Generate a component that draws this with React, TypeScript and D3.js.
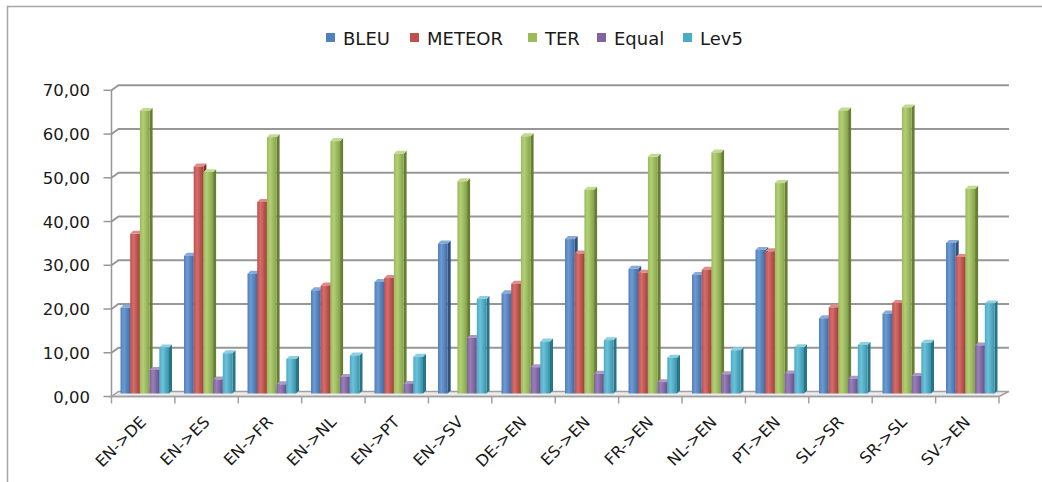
import React from "react";
import * as d3 from "d3";

const categories = ["EN->DE", "EN->ES", "EN->FR", "EN->NL", "EN->PT", "EN->SV", "DE->EN", "ES->EN", "FR->EN", "NL->EN", "PT->EN", "SL->SR", "SR->SL", "SV->EN"];
const seriesNames = ["BLEU", "METEOR", "TER", "Equal", "Lev5"];
const bleu = [19.6, 31.5, 27.4, 23.6, 25.5, 34.3, 22.9, 35.3, 28.5, 27.1, 32.8, 17.2, 18.3, 34.4];
const meteor = [36.5, 51.9, 43.8, 24.7, 26.4, 0, 25.1, 32.0, 27.6, 28.3, 32.5, 19.7, 20.7, 31.2];
const ter = [64.6, 50.6, 58.6, 57.7, 54.8, 48.5, 58.8, 46.6, 54.1, 55.1, 48.1, 64.7, 65.4, 46.8];
const equal = [5.4, 3.2, 2.1, 3.8, 2.2, 12.7, 6.0, 4.5, 2.6, 4.4, 4.6, 3.4, 4.0, 11.0];
const lev5 = [10.5, 9.2, 7.9, 8.7, 8.4, 21.6, 11.9, 12.2, 8.2, 9.9, 10.6, 11.1, 11.6, 20.6];
const yTicks = [0, 10, 20, 30, 40, 50, 60, 70];

const seriesValues = [bleu, meteor, ter, equal, lev5];
const colors = [
  { front: "#4F81BD", light: "#6E9AD2", dark: "#3E6BA3", side: "#2E527F", top: "#86ABDA" },
  { front: "#C0504D", light: "#D46E6B", dark: "#A43E3B", side: "#832F2C", top: "#DE8C89" },
  { front: "#9BBB59", light: "#B2CF77", dark: "#84A246", side: "#667F33", top: "#C3DB8F" },
  { front: "#8064A2", light: "#987FB8", dark: "#6B5189", side: "#523E6B", top: "#AD98C8" },
  { front: "#4BACC6", light: "#6CC2D8", dark: "#3893AC", side: "#2A7487", top: "#8AD0E1" },
];

const legendSquareX = [326, 410, 528, 597, 683];
const FONT = "'DejaVu Sans', sans-serif";

export default function App() {
  const W = 1042, H = 482;
  const axisX0 = 111.5, axisX1 = 999;
  const frontY = d3.scaleLinear().domain([0, 70]).range([396.5, 90.3]);
  const barY = d3.scaleLinear().domain([0, 70]).range([393.5, 87.3]);
  const tickBand = d3.scaleBand<string>().domain(categories).range([axisX0, axisX1]).padding(0);
  const barBand = d3.scaleBand<string>().domain(categories).range([113, 1002]).padding(0);
  const inner = d3.scaleBand<string>().domain(seriesNames).range([7.5, 56]).padding(0);
  const backDy = -5;
  const gridRight = 1009;
  const bdx = 3, bdy = -3;

  return (
    <svg width={W} height={H} style={{ position: "absolute", left: 0, top: 0, background: "#fff" }}>
      <defs>
        {colors.map((c, i) => (
          <linearGradient key={i} id={`g${i}`} x1="0" x2="1" y1="0" y2="0">
            <stop offset="0" stopColor={c.front} />
            <stop offset="0.35" stopColor={c.light} />
            <stop offset="1" stopColor={c.dark} />
          </linearGradient>
        ))}
      </defs>
      {/* frame */}
      <path d={`M7.5,${H} V6.5 H${W}`} fill="none" stroke="#a6a6a6" strokeWidth={1.5} />

      {/* legend */}
      {seriesNames.map((s, i) => (
        <g key={s}>
          <rect x={legendSquareX[i]} y={33} width={9} height={9} fill={colors[i].front} />
          <text x={legendSquareX[i] + 17} y={44.5} fontFamily={FONT} fontSize={18} fill="#1a1a1a">{s}</text>
        </g>
      ))}

      {/* floor */}
      <path
        d={`M${axisX0},${frontY(0)} L${axisX1},${frontY(0)} L${gridRight},${frontY(0) + backDy} L${axisX0 + 7},${frontY(0) + backDy} Z`}
        fill="#ececec" stroke="#a0a0a0" strokeWidth={1.5}
      />

      {/* gridlines */}
      {yTicks.map((t) => {
        const y = frontY(t);
        return (
          <g key={t}>
            {t > 0 && (
              <path d={`M${axisX0},${y} L${axisX0 + 7},${y + backDy} H${gridRight}`} fill="none" stroke="#979797" strokeWidth={2} />
            )}
            <line x1={axisX0 - 8} x2={axisX0} y1={y} y2={y} stroke="#979797" strokeWidth={1.5} />
            <text x={90} y={y + 6} textAnchor="end" fontFamily={FONT} fontSize={16.5} fill="#1a1a1a">
              {d3.format(".2f")(t).replace(".", ",")}
            </text>
          </g>
        );
      })}
      {/* y axis */}
      <line x1={axisX0} x2={axisX0} y1={frontY(70)} y2={frontY(0)} stroke="#979797" strokeWidth={1.5} />

      {/* bars */}
      {categories.map((cat, ci) => (
        <g key={cat}>
          {seriesValues.map((vals, si) => {
            const v = vals[ci];
            if (!v) return null;
            const x = (barBand(cat) as number) + (inner(seriesNames[si]) as number);
            const w = inner.bandwidth();
            const y0 = barY(0);
            const y1 = barY(v);
            const c = colors[si];
            return (
              <g key={si}>
                <path d={`M${x + w},${y1} L${x + w + bdx},${y1 + bdy} L${x + w + bdx},${y0 + bdy} L${x + w},${y0} Z`} fill={c.side} />
                <path d={`M${x},${y1} L${x + bdx},${y1 + bdy} L${x + w + bdx},${y1 + bdy} L${x + w},${y1} Z`} fill={c.top} />
                <rect x={x} y={y1} width={w} height={y0 - y1} fill={`url(#g${si})`} />
              </g>
            );
          })}
        </g>
      ))}

      {/* x axis front line & ticks */}
      <line x1={axisX0} x2={axisX1} y1={frontY(0)} y2={frontY(0)} stroke="#a0a0a0" strokeWidth={1.5} />
      {d3.range(categories.length + 1).map((i) => {
        const x = axisX0 + i * tickBand.bandwidth();
        return <line key={i} x1={x} x2={x} y1={frontY(0)} y2={frontY(0) + 7} stroke="#a0a0a0" strokeWidth={1.5} />;
      })}

      {/* x labels */}
      {categories.map((cat) => {
        const cx = (tickBand(cat) as number) + tickBand.bandwidth() / 2 + 4;
        const cy = 423;
        return (
          <text key={cat} x={cx} y={cy} transform={`rotate(-45 ${cx} ${cy})`} textAnchor="end" fontFamily={FONT} fontSize={16} fill="#1a1a1a">
            {cat}
          </text>
        );
      })}
    </svg>
  );
}
